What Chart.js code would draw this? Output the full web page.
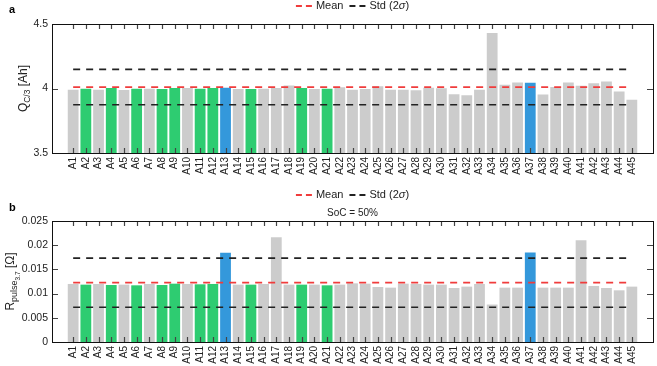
<!DOCTYPE html>
<html>
<head>
<meta charset="utf-8">
<script src="https://cdn.jsdelivr.net/npm/chart.js@4"></script>
<style>
body{margin:0;background:#fff}
canvas{position:absolute;left:0}
</style>
</head>
<body>
<canvas id="chartA" width="657" height="180" style="top:0"></canvas>
<canvas id="chartB" width="657" height="186" style="top:180px"></canvas>
<script>
// cells
const cells = ['A1','A2','A3','A4','A5','A6','A7','A8','A9','A10','A11','A12','A13','A14','A15',
  'A16','A17','A18','A19','A20','A21','A22','A23','A24','A25','A26','A27','A28','A29','A30',
  'A31','A32','A33','A34','A35','A36','A37','A38','A39','A40','A41','A42','A43','A44','A45']
// g = grey, n = green, b = blue
const group = ['g','n','g','n','g','n','g','n','n','g','n','n','b','g','n',
  'g','g','g','n','g','n','g','g','g','g','g','g','g','g','g',
  'g','g','g','g','g','g','b','g','g','g','g','g','g','g','g']

const capacity = [3.991,3.999,3.991,4.004,3.989,3.999,3.999,3.996,4.004,4.004,3.999,4.004,4.006,3.996,3.996,
  3.999,4.004,4.024,4.004,3.996,3.999,4.009,3.991,3.996,4.017,3.991,3.991,3.986,4.006,4.001,
  3.955,3.948,3.991,4.431,4.029,4.047,4.045,3.953,4.011,4.047,4.022,4.040,4.055,3.976,3.912]
const capMean = 4.011
const capStd2 = 0.137

const resistance = [0.01199,0.01185,0.01199,0.01178,0.01185,0.01171,0.01199,0.01178,0.01205,0.01199,0.01192,0.01199,0.01842,0.01185,0.01185,
  0.01199,0.02164,0.01185,0.01185,0.01185,0.01171,0.01185,0.01212,0.01205,0.01137,0.01123,0.01205,0.01199,0.01185,0.01185,
  0.01116,0.01144,0.01199,0.00774,0.01123,0.01123,0.01849,0.01123,0.01123,0.01123,0.02103,0.01158,0.01116,0.01068,0.01144]
const resMean = 0.01226
const resStd2 = 0.00507

const colors = {g:'#cccccc', n:'#2ecc71', b:'#3498db'}
const FONT = '"Liberation Sans", Arial, sans-serif'

// frame + inward ticks + texts
const decor = {
  id:'decor',
  afterDraw(chart, args, o){
    const c = chart.ctx, a = chart.chartArea
    const xs = chart.scales.x, ys = chart.scales.y
    c.save()
    c.strokeStyle = '#444'
    c.lineWidth = 1.2
    xs.ticks.forEach(t=>{
      const px = Math.round(xs.getPixelForValue(t.value))+0.5
      c.beginPath()
      c.moveTo(px,a.bottom); c.lineTo(px,a.bottom-5)
      c.moveTo(px,a.top); c.lineTo(px,a.top+5)
      c.stroke()
    })
    ys.ticks.forEach(t=>{
      const py = Math.round(ys.getPixelForValue(t.value))+0.5
      c.beginPath()
      c.moveTo(a.left,py); c.lineTo(a.left+6,py)
      c.moveTo(a.right,py); c.lineTo(a.right-6,py)
      c.stroke()
    })
    c.strokeStyle = '#111'
    c.lineWidth = 1
    c.strokeRect(Math.round(a.left)+0.5, Math.round(a.top)+0.5, Math.round(a.right-a.left), Math.round(a.bottom-a.top))

    // panel letter
    c.fillStyle = '#000'
    c.font = 'bold 11px '+FONT
    c.textBaseline = 'middle'
    c.fillText(o.letter, 9, o.letterY)

    // legend
    const cx = (a.left+a.right)/2
    c.font = '11px '+FONT
    const wMean = c.measureText('Mean').width
    const wStd1 = c.measureText('Std (2').width
    c.font = 'italic 11px '+FONT
    const wSig = c.measureText('σ').width
    c.font = '11px '+FONT
    const wStd2 = c.measureText(')').width
    const sample = 16, gap = 4, sep = 6
    const total = sample+gap+wMean+sep+sample+gap+wStd1+wSig+wStd2
    let x = cx-total/2
    const y = o.legendY
    const drawSample = (col)=>{
      c.strokeStyle = col; c.lineWidth = 1.8
      c.beginPath()
      c.moveTo(x,y); c.lineTo(x+6,y)
      c.moveTo(x+10,y); c.lineTo(x+16,y)
      c.stroke()
      x += sample+gap
    }
    c.fillStyle = '#222'
    c.textAlign = 'left'
    drawSample('#f03c3c')
    c.fillText('Mean', x, y); x += wMean+sep
    drawSample('#222')
    c.fillText('Std (2', x, y); x += wStd1
    c.font = 'italic 11px '+FONT
    c.fillText('σ', x, y); x += wSig
    c.font = '11px '+FONT
    c.fillText(')', x, y)

    if (o.subtitle){
      c.font = '10px '+FONT
      c.textAlign = 'center'
      c.fillText(o.subtitle, cx, o.subtitleY)
    }

    // y title, rotated, with subscripts
    c.translate(o.titleX, (a.top+a.bottom)/2)
    c.rotate(-Math.PI/2)
    const parts = o.title
    let w = 0
    parts.forEach(p=>{ c.font = p.size+'px '+FONT; w += c.measureText(p.t).width })
    let tx = -w/2
    c.textAlign = 'left'
    c.textBaseline = 'alphabetic'
    parts.forEach(p=>{
      c.font = p.size+'px '+FONT
      c.fillText(p.t, tx, 4+p.dy)
      tx += c.measureText(p.t).width
    })
    c.restore()
  }
}

function makeChart(id, values, mean, std2, yMin, yMax, step, xHeight, padTop, extra){
  const pts = values.map((v,i)=>({x:i+1, y:v}))
  const hline = v => [{x:1, y:v}, {x:cells.length, y:v}]
  return new Chart(document.getElementById(id), {
    data:{
      datasets:[
        {type:'bar', data:pts, backgroundColor:group.map(g=>colors[g]),
          barPercentage:0.85, categoryPercentage:1, borderWidth:0, order:2},
        {type:'line', data:hline(mean), borderColor:'#f03c3c', borderDash:[7,6], borderWidth:1.6, pointRadius:0, order:0},
        {type:'line', data:hline(mean+std2), borderColor:'#222', borderDash:[7,6], borderWidth:1.6, pointRadius:0, order:1},
        {type:'line', data:hline(mean-std2), borderColor:'#222', borderDash:[7,6], borderWidth:1.6, pointRadius:0, order:1}
      ]
    },
    options:{
      responsive:false,
      animation:false,
      devicePixelRatio:1,
      layout:{padding:{top:padTop, right:4, left:0, bottom:0}},
      plugins:{legend:{display:false}, tooltip:{enabled:false}, decor:extra},
      scales:{
        x:{type:'linear', min:-0.14, max:cells.length+1.14,
          grid:{display:false, drawTicks:false}, border:{display:false},
          afterBuildTicks:s=>{ s.ticks = cells.map((c,i)=>({value:i+1})) },
          afterFit:s=>{ s.height = xHeight },
          ticks:{autoSkip:false, minRotation:90, maxRotation:90, padding:4,
            color:'#222', font:{size:10, family:FONT},
            callback:v=>cells[v-1] || ''}},
        y:{min:yMin, max:yMax,
          grid:{display:false, drawTicks:false}, border:{display:false},
          afterFit:s=>{ s.width = 52 },
          ticks:{stepSize:step, padding:4, color:'#222', font:{size:10.5, family:FONT},
            callback:v=>String(+v.toFixed(4))}}
      }
    },
    plugins:[decor]
  })
}

makeChart('chartA', capacity, capMean, capStd2, 3.5, 4.5, 0.5, 27, 24, {
  letter:'a', letterY:10, legendY:6, titleX:23,
  title:[{t:'Q',size:12,dy:0},{t:'C/3',size:8.5,dy:3},{t:' [Ah]',size:12,dy:0}]
})
makeChart('chartB', resistance, resMean, resStd2, 0, 0.025, 0.005, 24, 41, {
  letter:'b', letterY:28, legendY:15, titleX:10, subtitle:'SoC = 50%', subtitleY:33,
  title:[{t:'R',size:12,dy:0},{t:'pulse',size:9,dy:3},{t:'3.7',size:6.5,dy:6},{t:' [Ω]',size:12,dy:0}]
})
</script>
</body>
</html>
